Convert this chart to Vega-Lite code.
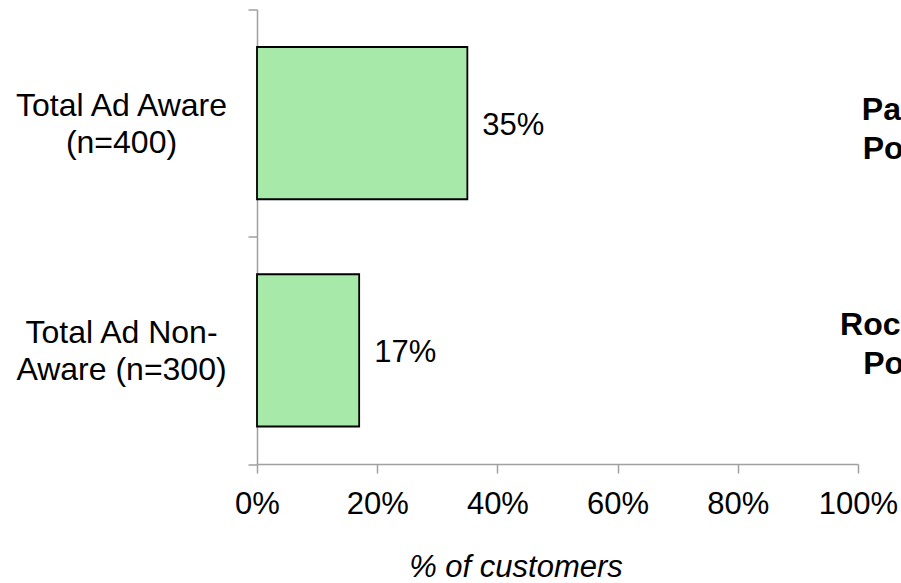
{
  "$schema": "https://vega.github.io/schema/vega-lite/v6.json",
  "width": 601,
  "height": 454.5,
  "autosize": {"type": "none"},
  "padding": {"left": 257, "top": 9.5, "right": 43, "bottom": 119},
  "background": "white",
  "config": {"font": "Liberation Sans", "view": {"stroke": null}},
  "data": {
    "values": [
      {"group": "Total Ad Aware|(n=400)", "share": 0.35},
      {"group": "Total Ad Non-|Aware (n=300)", "share": 0.17}
    ]
  },
  "encoding": {
    "y": {
      "field": "group",
      "type": "nominal",
      "sort": null,
      "scale": {"paddingInner": 0, "paddingOuter": 0},
      "axis": {
        "title": null,
        "labelExpr": "split(datum.label, '|')",
        "labelFontSize": 32,
        "labelLineHeight": 37,
        "labelAlign": "center",
        "labelBaseline": "middle",
        "labelPadding": 127,
        "labelOffset": -18,
        "labelLimit": 0,
        "labelColor": "#000000",
        "tickBand": "extent",
        "tickSize": 9,
        "tickColor": "#a0a0a0",
        "tickWidth": 1.5,
        "domainColor": "#a0a0a0",
        "domainWidth": 1.5,
        "grid": false
      }
    }
  },
  "layer": [
    {
      "mark": {"type": "bar", "height": {"band": 0.67}, "fill": "#a6e9a9", "stroke": "#000000", "strokeWidth": 1.8},
      "encoding": {
        "x": {
          "field": "share",
          "type": "quantitative",
          "scale": {"domain": [0, 1]},
          "axis": {
            "values": [0, 0.2, 0.4, 0.6, 0.8, 1],
            "format": ".0%",
            "grid": false,
            "domainColor": "#a0a0a0",
            "domainWidth": 1.5,
            "tickColor": "#a0a0a0",
            "tickWidth": 1.5,
            "tickSize": 9,
            "labelFontSize": 31,
            "labelColor": "#000000",
            "labelPadding": 16,
            "labelFlush": false,
            "labelOverlap": false,
            "title": "% of customers",
            "titleFontSize": 31,
            "titleFontStyle": "italic",
            "titleFontWeight": "normal",
            "titleColor": "#000000",
            "titleAlign": "center",
            "titleBaseline": "alphabetic",
            "titleX": 258.5,
            "titleY": 112
          }
        }
      }
    },
    {
      "mark": {"type": "text", "align": "left", "baseline": "middle", "dx": 15, "dy": 3, "fontSize": 31, "color": "#000000"},
      "encoding": {
        "x": {"field": "share", "type": "quantitative", "scale": {"domain": [0, 1]}},
        "text": {"field": "share", "type": "quantitative", "format": ".0%"}
      }
    },
    {
      "data": {"values": [{"group": "Total Ad Aware|(n=400)", "note": ["Party", "Pops"]}]},
      "mark": {"type": "text", "align": "center", "baseline": "middle", "dy": -13, "fontSize": 32, "fontWeight": "bold", "lineHeight": 39, "color": "#000000"},
      "encoding": {
        "x": {"datum": 1.073, "type": "quantitative", "scale": {"domain": [0, 1]}},
        "text": {"field": "note"}
      }
    },
    {
      "data": {"values": [{"group": "Total Ad Non-|Aware (n=300)", "note": ["Rocket", "Pop"]}]},
      "mark": {"type": "text", "align": "center", "baseline": "middle", "dy": -25, "fontSize": 32, "fontWeight": "bold", "lineHeight": 39, "color": "#000000"},
      "encoding": {
        "x": {"datum": 1.059, "type": "quantitative", "scale": {"domain": [0, 1]}},
        "text": {"field": "note"}
      }
    }
  ]
}
